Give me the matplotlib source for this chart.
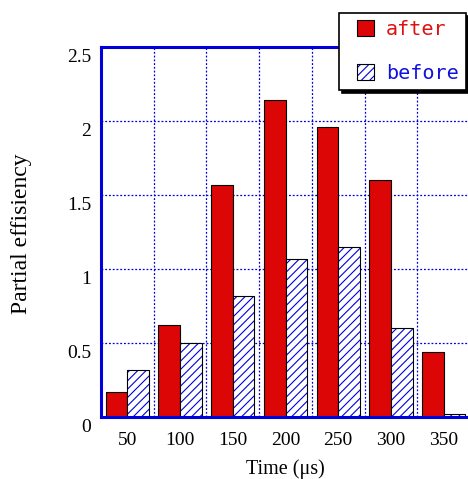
import numpy as np
import matplotlib
matplotlib.use('agg')
from matplotlib import pyplot as plt
from matplotlib.patches import Patch
from matplotlib.legend_handler import HandlerTuple, HandlerPatch
from matplotlib.transforms import ScaledTranslation

times = [50, 100, 150, 200, 250, 300, 350]
after = [0.17, 0.62, 1.57, 2.14, 1.96, 1.60, 0.44]
before = [0.32, 0.50, 0.82, 1.07, 1.15, 0.60, 0.02]
yticks = [0, 0.5, 1, 1.5, 2, 2.5]
ytick_labels = ['0', '0.5', '1', '1.5', '2', '2.5']
series_names = ['after', 'before']

red = '#dc0606'
blue = '#0000dd'
serif = 'Liberation Serif'

plt.rcParams['hatch.linewidth'] = 0.8

fig = plt.figure(figsize=(4.68, 4.79), dpi=100)
ax = fig.add_axes([101/468, 62/479, 369/468, 370/479])

x = np.array(times)
w = 20.5
ax.bar(x - w/2, after, w, color=red, edgecolor='black', linewidth=0.8, zorder=3)
ax.bar(x + w/2, before, w, color='white', edgecolor=blue, hatch='////', linewidth=0.5, zorder=3)
ax.bar(x + w/2, before, w, fill=False, edgecolor='black', linewidth=0.8, zorder=3)

ax.set_xlim(25, 375)
ax.set_ylim(0, 2.5)
ax.set_xticks(times)
ax.set_xticklabels([str(t) for t in times], fontfamily=serif, fontsize=14)
ax.set_xticks(x[:-1] + 25, minor=True)
ax.set_yticks(yticks)
ax.set_yticklabels(ytick_labels, fontfamily=serif, fontsize=14)
ax.tick_params(length=0, which='both')
ax.tick_params(axis='x', pad=11)
ax.tick_params(axis='y', pad=7)
for lab in ax.get_yticklabels():
    lab.set_transform(lab.get_transform() + ScaledTranslation(0, -0.09, fig.dpi_scale_trans))

ax.grid(axis='y', which='major', color=blue, linestyle=(0, (1.5, 1.5)), linewidth=0.9)
ax.grid(axis='x', which='minor', color=blue, linestyle=(0, (1.5, 1.5)), linewidth=0.9)
ax.set_axisbelow(True)

for side in ['left', 'bottom', 'top']:
    ax.spines[side].set_color(blue)
    ax.spines[side].set_linewidth(2.2)
    ax.spines[side].set_zorder(4)
ax.spines['right'].set_visible(False)

ax.set_xlabel('Time (μs)', fontfamily=serif, fontsize=14.5, va='center')
ax.xaxis.set_label_coords(0.5, (417 - 469) / 370)
ax.set_ylabel('Partial effisiency', fontfamily=serif, fontsize=17, va='center')
ax.yaxis.set_label_coords((22 - 101) / 369, (417 - 234) / 370)

# legend: small squares pushed right inside a wider handle box
h_after = Patch(facecolor=red, edgecolor='black', linewidth=0.8)
h_before = (Patch(facecolor='white', edgecolor=blue, hatch='////', linewidth=0.5),
            Patch(fill=False, edgecolor='black', linewidth=0.8))
leg = fig.legend([h_after, h_before], series_names,
                 handler_map={Patch: HandlerPatch(xpad=0.53),
                              tuple: HandlerTuple(ndivide=1, pad=0, xpad=0.53)},
                 loc='upper left', bbox_to_anchor=(339/468, 1 - 13/479),
                 borderaxespad=0, borderpad=0.36, handlelength=1.38, handleheight=0.85,
                 handletextpad=0.6, labelspacing=1.22,
                 prop={'family': 'DejaVu Sans Mono', 'size': 14.5},
                 labelcolor=['#e01010', '#1010e0'],
                 fancybox=False, framealpha=1, edgecolor='black',
                 shadow={'color': 'black', 'alpha': 1})
leg.get_frame().set_linewidth(1.2)

fig.savefig('out.png', dpi=100)
